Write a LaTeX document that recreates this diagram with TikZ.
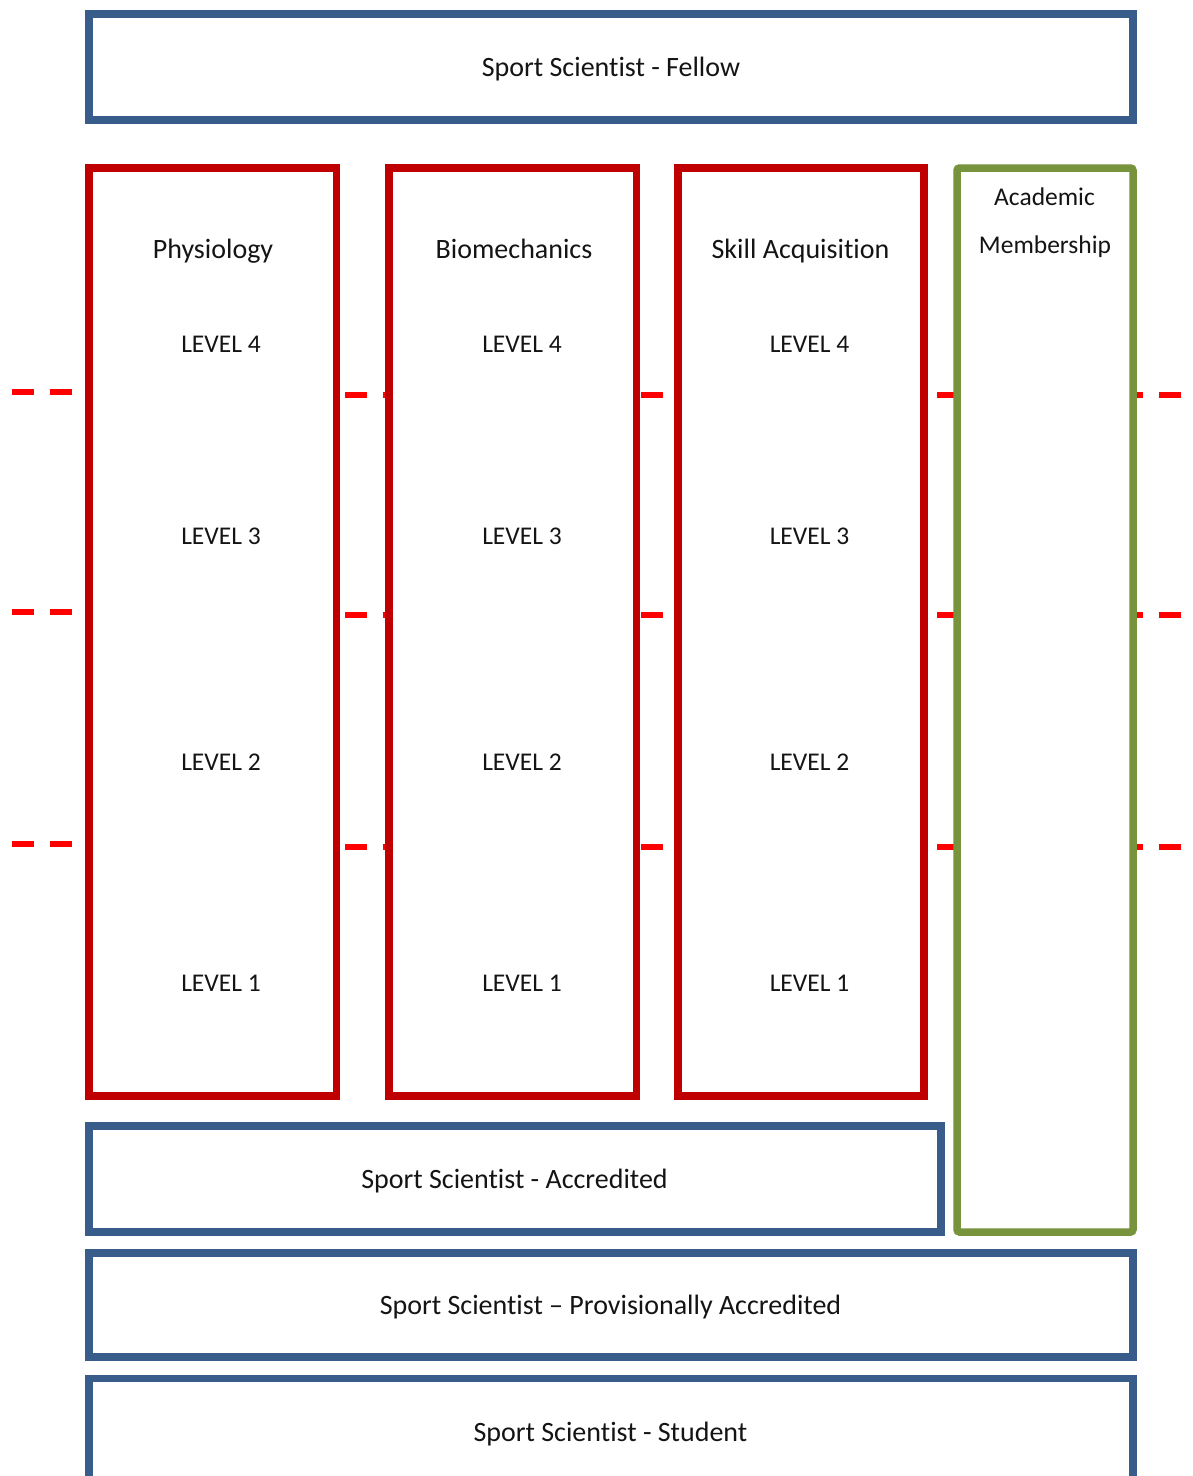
\documentclass[tikz,border=0pt]{standalone}
\usepackage{fontspec}
\setmainfont{Carlito}[Ligatures={NoCommon,NoContextual}]
\definecolor{boxblue}{HTML}{385D8A}
\definecolor{boxred}{HTML}{C00000}
\definecolor{boxgreen}{HTML}{77933C}
\definecolor{dashred}{HTML}{FF0000}
\definecolor{txtcol}{HTML}{141414}
\begin{document}
\begin{tikzpicture}[x=1pt,y=-1pt,
  box/.style={draw, fill=white, line width=7.5pt, inner sep=0pt, outer sep=0pt},
  bluebox/.style={box, draw=boxblue},
  redbox/.style={box, draw=boxred},
  greenbox/.style={box, draw=boxgreen, rounded corners=2.5pt},
  bigtxt/.style={font=\fontsize{28}{34}\selectfont, text=txtcol, anchor=base, inner sep=0pt},
  smalltxt/.style={font=\fontsize{25.5}{30}\selectfont, text=txtcol, anchor=base, inner sep=0pt},
  levelline/.style={draw=dashred, line width=6pt, dash pattern=on 22pt off 16pt}]
\clip (0,0) rectangle (1193,1476);
\fill[white] (0,0) rectangle (1193,1476);

% dashed level separators (drawn first, boxes cover them)
\foreach \i/\ya/\yb in {1/392/395, 2/612/615, 3/844/847}{
  \coordinate (la\i) at (12,\ya);   \coordinate (lb\i) at (72,\ya);
  \coordinate (pa\i) at (345,\yb);  \coordinate (pb\i) at (392,\yb);
  \coordinate (ba\i) at (641,\yb);  \coordinate (bb\i) at (663,\yb);
  \coordinate (sa\i) at (937,\yb);  \coordinate (sb\i) at (958,\yb);
  \coordinate (ra\i) at (1121,\yb); \coordinate (rb\i) at (1181,\yb);
  \draw[levelline] (la\i) -- (lb\i);
  \draw[levelline] (pa\i) -- (pb\i);
  \draw[levelline] (ba\i) -- (bb\i);
  \draw[levelline] (sa\i) -- (sb\i);
  \draw[levelline] (ra\i) -- (rb\i);
}

% boxes
\node[bluebox, minimum width=1044pt, minimum height=106pt] (fellow) at (611,67) {};
\node[redbox, minimum width=247.5pt, minimum height=928pt] (phys) at (212.75,632) {};
\node[redbox, minimum width=247.5pt, minimum height=928pt] (bio) at (512.75,632) {};
\node[redbox, minimum width=246pt, minimum height=928pt] (skill) at (801,632) {};
\node[greenbox, minimum width=176pt, minimum height=1064pt] (acad) at (1045,700) {};
\node[bluebox, minimum width=852pt, minimum height=106pt] (accr) at (515,1179) {};
\node[bluebox, minimum width=1044pt, minimum height=104pt] (prov) at (611,1305) {};
\node[bluebox, minimum width=1044pt, minimum height=106pt] (stud) at (611,1431.5) {};

% texts
\node[bigtxt] (tfellow) at (611,76.5) {Sport Scientist - Fellow};
\node[bigtxt] (tphys) at (213,258.5) {Physiology};
\node[bigtxt] (tbio) at (514,258.5) {Biomechanics};
\node[bigtxt] (tskill) at (800.5,258.5) {Skill Acquisition};
\node[smalltxt] (tacad1) at (1044.5,205) {Academic};
\node[smalltxt] (tacad2) at (1045,253) {Membership};

\foreach \n/\x in {p/221, b/522, s/809.5}{
  \node[smalltxt] (\n l4) at (\x,352.5) {LEVEL 4};
  \node[smalltxt] (\n l3) at (\x,544) {LEVEL 3};
  \node[smalltxt] (\n l2) at (\x,770) {LEVEL 2};
  \node[smalltxt] (\n l1) at (\x,991) {LEVEL 1};
}

\node[bigtxt] (taccr) at (514.5,1188.5) {Sport Scientist - Accredited};
\node[bigtxt] (tprov) at (610.5,1314.5) {Sport Scientist -- Provisionally Accredited};
\node[bigtxt] (tstud) at (610.5,1441.5) {Sport Scientist - Student};
\end{tikzpicture}
\end{document}
